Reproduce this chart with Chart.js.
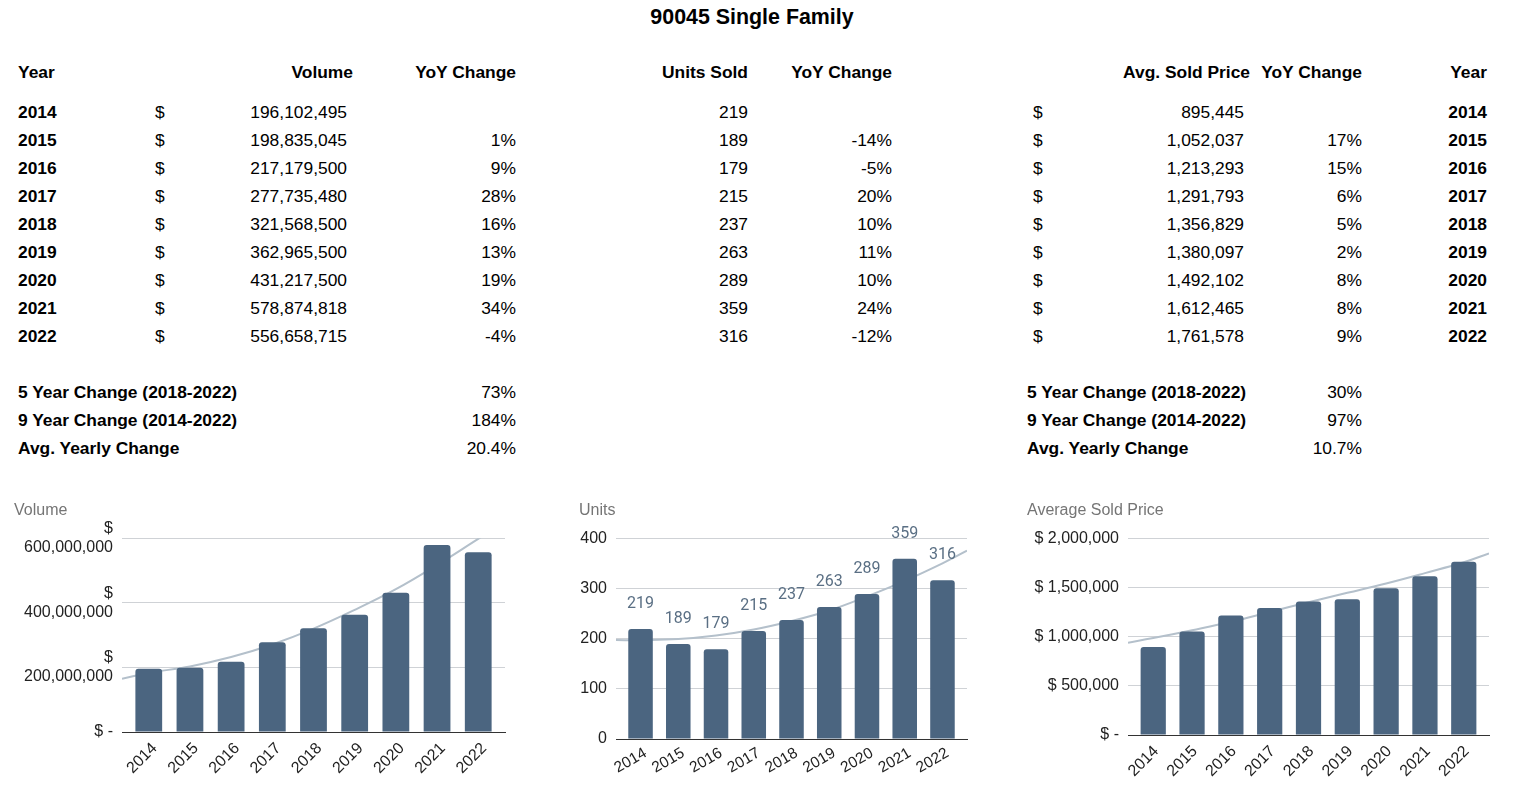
<!DOCTYPE html>
<html>
<head>
<meta charset="utf-8">
<script src="https://cdn.jsdelivr.net/npm/chart.js@4.4.0/dist/chart.umd.min.js"></script>
<style>
  body { margin: 0; width: 1524px; height: 803px; overflow: hidden; position: relative; background: #fff;
         font-family: 'Liberation Sans', Arial, sans-serif; color: #000; }
  .t { position: absolute; font-size: 17.4px; line-height: 24px; white-space: nowrap; }
  .b { font-weight: bold; }
  canvas { position: absolute; }
</style>
</head>
<body>
<canvas id="volume-chart" width="496" height="300" style="left:14px;top:498px"></canvas>
<canvas id="units-chart" width="393" height="300" style="left:579px;top:498px"></canvas>
<canvas id="price-chart" width="467" height="300" style="left:1027px;top:498px"></canvas>
<script>
// Table + chart data
const years = ['2014', '2015', '2016', '2017', '2018', '2019', '2020', '2021', '2022'];
const volume = [196102495, 198835045, 217179500, 277735480, 321568500, 362965500, 431217500, 578874818, 556658715];
const volumeYoY = ['', '1%', '9%', '28%', '16%', '13%', '19%', '34%', '-4%'];
const units = [219, 189, 179, 215, 237, 263, 289, 359, 316];
const unitsYoY = ['', '-14%', '-5%', '20%', '10%', '11%', '10%', '24%', '-12%'];
const avgPrice = [895445, 1052037, 1213293, 1291793, 1356829, 1380097, 1492102, 1612465, 1761578];
const priceYoY = ['', '17%', '15%', '6%', '5%', '2%', '8%', '8%', '9%'];

const summaryLabels = ['5 Year Change (2018-2022)', '9 Year Change (2014-2022)', 'Avg. Yearly Change'];
const volumeSummary = ['73%', '184%', '20.4%'];
const priceSummary = ['30%', '97%', '10.7%'];

// trendlines (x = year index, edges included)
const trendX = [-0.65, 0, 1, 2, 3, 4, 5, 6, 7, 8, 8.65];
const volumeTrend = [165e6, 183e6, 203e6, 232e6, 271e6, 320e6, 378e6, 442e6, 517e6, 598e6, 650e6];
const unitsTrend = [197, 197, 199, 206, 218, 235, 256, 284, 315, 350, 375];
const priceTrend = [938e3, 985e3, 1065e3, 1150e3, 1250e3, 1350e3, 1445e3, 1540e3, 1645e3, 1755e3, 1845e3];

const volumeTicks = [0, 200000000, 400000000, 600000000];
const unitsTicks = [0, 100, 200, 300, 400];
const priceTicks = [0, 500000, 1000000, 1500000, 2000000];

// Table text
function put(text, x, y, align, bold, size) {
  const d = document.createElement('div');
  d.className = 't' + (bold ? ' b' : '');
  d.textContent = text;
  if (size) d.style.fontSize = size + 'px';
  d.style.top = (y - 12) + 'px';
  if (align === 'left') d.style.left = x + 'px';
  else if (align === 'center') { d.style.left = x + 'px'; d.style.transform = 'translateX(-50%)'; }
  else d.style.right = (1524 - x) + 'px';
  document.body.appendChild(d);
}
const fmt = (n) => n.toLocaleString('en-US');

put('90045 Single Family', 752, 17, 'center', true, 21.4);

put('Year', 18, 72, 'left', true);
put('Volume', 353, 72, 'right', true);
put('YoY Change', 516, 72, 'right', true);
put('Units Sold', 748, 72, 'right', true);
put('YoY Change', 892, 72, 'right', true);
put('Avg. Sold Price', 1250, 72, 'right', true);
put('YoY Change', 1362, 72, 'right', true);
put('Year', 1487, 72, 'right', true);

years.forEach((yr, i) => {
  const y = 112 + i * 28;
  put(yr, 18, y, 'left', true);
  put('$', 155, y, 'left');
  put(fmt(volume[i]), 347, y, 'right');
  put(volumeYoY[i], 516, y, 'right');
  put(String(units[i]), 748, y, 'right');
  put(unitsYoY[i], 892, y, 'right');
  put('$', 1033, y, 'left');
  put(fmt(avgPrice[i]), 1244, y, 'right');
  put(priceYoY[i], 1362, y, 'right');
  put(yr, 1487, y, 'right', true);
});

summaryLabels.forEach((lbl, i) => {
  const y = 392 + i * 28;
  put(lbl, 18, y, 'left', true);
  put(volumeSummary[i], 516, y, 'right');
  put(lbl, 1027, y, 'left', true);
  put(priceSummary[i], 1362, y, 'right');
});

// Charts
Chart.defaults.font.family = "'Liberation Sans', Arial, sans-serif";
Chart.defaults.color = '#222';

const barColor = '#4b6580';
const trendColor = '#b4c0cb';

function pts(xs, ys) { return xs.map((x, i) => ({ x: x, y: ys[i] })); }

function makeOptions(title, yTicks, yLabel, yWidth, xHeight, rot, xFont, xShift, xPad) {
  return {
    responsive: false,
    animation: false,
    events: [],
    layout: { padding: { left: 0, right: 5, top: 0, bottom: 0 } },
    plugins: {
      legend: { display: false },
      tooltip: { enabled: false },
      title: {
        display: true, text: title, align: 'start', color: '#757575',
        font: { size: 16, weight: 'normal' }, padding: { top: 3, bottom: 18 }
      }
    },
    scales: {
      x: {
        type: 'linear', min: -0.65, max: 8.65, offset: false,
        afterBuildTicks: (s) => { s.ticks = years.map((y, i) => ({ value: i })); },
        afterFit: (s) => { s.height = xHeight; },
        ticks: {
          autoSkip: false, minRotation: rot, maxRotation: rot, padding: xPad, labelOffset: xShift,
          font: { size: xFont }, color: '#222',
          callback: (v) => years[v]
        },
        grid: { display: false, drawTicks: false },
        border: { display: true, color: '#333', width: 1 }
      },
      y: {
        min: 0, max: yTicks[yTicks.length - 1],
        afterBuildTicks: (s) => { s.ticks = yTicks.map((v) => ({ value: v })); },
        afterFit: (s) => { s.width = yWidth; },
        ticks: { padding: 9, font: { size: 16 }, color: '#222', callback: yLabel },
        grid: {
          drawTicks: false,
          color: (c) => (c.tick && c.tick.value === 0 ? 'rgba(0,0,0,0)' : '#cfd2d6')
        },
        border: { display: false }
      }
    }
  };
}

function datasets(values, trend) {
  return [{
    type: 'bar',
    data: pts(years.map((y, i) => i), values),
    backgroundColor: barColor,
    borderRadius: { topLeft: 3, topRight: 3 },
    borderSkipped: 'bottom',
    barPercentage: 0.65,
    categoryPercentage: 1,
    order: 0
  }, {
    type: 'line',
    data: pts(trendX, trend),
    borderColor: trendColor,
    borderWidth: 2,
    pointRadius: 0,
    tension: 0.4,
    fill: false,
    order: 1
  }];
}

// Units value labels
const barLabels = {
  id: 'barLabels',
  afterDatasetsDraw(chart) {
    const meta = chart.getDatasetMeta(0);
    const ctx = chart.ctx;
    ctx.save();
    ctx.font = '16px Roboto';
    ctx.fillStyle = '#5a6f84';
    ctx.textAlign = 'center';
    ctx.textBaseline = 'middle';
    meta.data.forEach((bar, i) => {
      ctx.fillText(String(units[i]), bar.x, bar.y - 25);
    });
    ctx.restore();
  }
};

// Volume Chart
var volumeChart = new Chart(document.getElementById('volume-chart'), {
  type: 'bar',
  data: { datasets: datasets(volume, volumeTrend) },
  options: makeOptions('Volume', volumeTicks,
    (v) => (v === 0 ? '$ -' : ['$', fmt(v)]), 108, 66, 45, 16, 6, 7)
});

// Units Chart
var unitsChart = new Chart(document.getElementById('units-chart'), {
  type: 'bar',
  data: { datasets: datasets(units, unitsTrend) },
  options: makeOptions('Units', unitsTicks, (v) => String(v), 37, 59, 30, 15.5, 5, 5),
  plugins: [barLabels]
});

// Price Chart
var priceChart = new Chart(document.getElementById('price-chart'), {
  type: 'bar',
  data: { datasets: datasets(avgPrice, priceTrend) },
  options: makeOptions('Average Sold Price', priceTicks,
    (v) => (v === 0 ? '$ -' : '$ ' + fmt(v)), 101, 63, 45, 16, 3, 7)
});
</script>
</body>
</html>
